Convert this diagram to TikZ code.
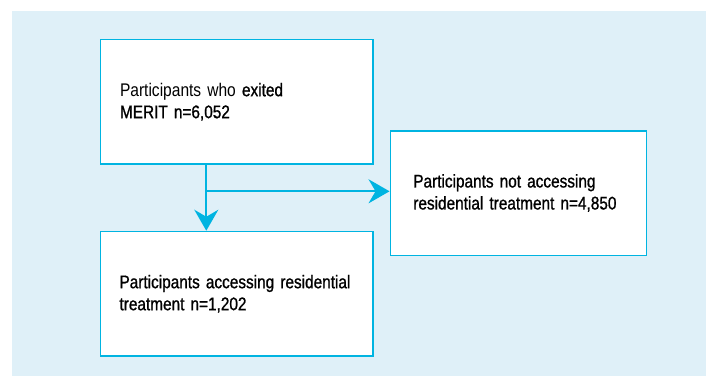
\documentclass[tikz,border=0pt]{standalone}
\usepackage{fontspec}
\setmainfont{Liberation Sans}
\newfontfamily\flowfont[FakeStretch=0.85]{Liberation Sans}
\newfontfamily\flowfontmed[FakeStretch=0.84,FakeBold=1.0]{Liberation Sans}
\usepackage{tikz}
\usetikzlibrary{positioning,arrows.meta}
\definecolor{meritblue}{HTML}{00B4E1}
\definecolor{meritback}{HTML}{DFF0F8}

\begin{document}
\begin{tikzpicture}[x=1pt,y=1pt,
  box/.style={draw=meritblue, line width=1.5pt, fill=white, align=left, inner ysep=0pt, minimum height=124.5pt, font=\flowfontmed\fontsize{18.3}{22}\selectfont},
  flow/.style={draw=meritblue, line width=2.2pt, -{Stealth[length=21pt,width=24pt,inset=7pt]}}]
\useasboundingbox (0,0) rectangle (706,376);
\fill[meritback] (12,0) rectangle (706,365);
\node[box, text width=233.5pt, inner xsep=19.5pt] (exit) at (236.75,274.25) {{\flowfont Participants who} exited\\MERIT n=6,052};
\node[box, text width=234.5pt, inner xsep=19pt, below=66pt of exit] (access) {Participants accessing residential\\treatment n=1,202};
\node[box, text width=210pt, inner xsep=23pt] (notaccess) at (518.3,183) {Participants not accessing\\residential treatment n=4,850};
\coordinate (split) at (206.3,184.7);
\draw[flow] (split |- exit.south) -- (split |- access.north);
\draw[flow] (split) -- (split -| notaccess.west);
\end{tikzpicture}
\end{document}
